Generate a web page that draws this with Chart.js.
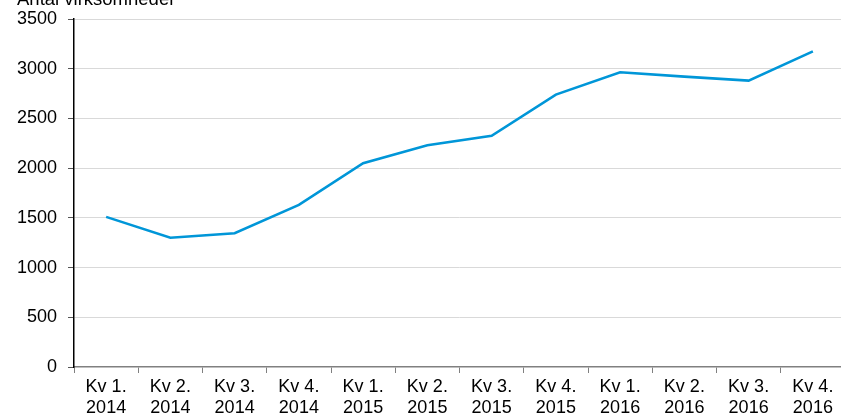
<!DOCTYPE html>
<html lang="da">
  <head>
    <meta charset="UTF-8" />
    <title>Antal virksomheder</title>
    <script src="https://cdn.jsdelivr.net/npm/chart.js@4.4.0/dist/chart.umd.min.js"></script>
    <style>
      html, body { margin: 0; padding: 0; background: #fff; overflow: hidden; }
      #wrap { width: 845px; height: 418px; }
    </style>
  </head>
  <body>
    <div id="wrap"><canvas id="myChart" width="845" height="418"></canvas></div>
    <script>
      // kvartaler
      const quarters = ["Kv 1.", "Kv 2.", "Kv 3.", "Kv 4.", "Kv 1.", "Kv 2.", "Kv 3.", "Kv 4.", "Kv 1.", "Kv 2.", "Kv 3.", "Kv 4."];
      const years = ["2014", "2014", "2014", "2014", "2015", "2015", "2015", "2015", "2016", "2016", "2016", "2016"];
      const antal = [1510, 1300, 1345, 1630, 2050, 2230, 2325, 2740, 2965, 2920, 2880, 3175];
      const yTitle = "Antal virksomheder";

      const labels = quarters.map((q, i) => [q, years[i]]);
      const font = "'Liberation Sans', Arial, sans-serif";

      // tekst over y-aksen, delvis skaaret af i toppen som i originalen
      const titlePlugin = {
        id: "ytitle",
        afterDraw(chart) {
          const ctx = chart.ctx;
          ctx.save();
          ctx.font = "18.5px " + font;
          ctx.fillStyle = "#000";
          ctx.textBaseline = "alphabetic";
          ctx.fillText(yTitle, 17, 5);
          ctx.restore();
        },
      };

      new Chart("myChart", {
        type: "line",
        data: {
          labels: labels,
          datasets: [
            {
              data: antal,
              borderColor: "#0096d8",
              borderWidth: 2.6,
              pointRadius: 0,
              tension: 0,
              fill: false,
            },
          ],
        },
        options: {
          responsive: false,
          animation: false,
          layout: { padding: { top: 19, right: 0, bottom: 0, left: 0 } },
          plugins: { legend: { display: false }, tooltip: { enabled: false } },
          scales: {
            x: {
              offset: true,
              grid: { offset: true, drawOnChartArea: false, tickLength: 6, color: "#808080" },
              border: { color: "#808080", width: 1.5 },
              ticks: { color: "#000", font: { family: font, size: 18, lineHeight: 1.18 }, maxRotation: 0, autoSkip: false, padding: 3 },
              afterFit(scale) { scale.height = 51; },
            },
            y: {
              min: 0,
              max: 3500,
              ticks: { stepSize: 500, color: "#000", font: { family: font, size: 18 }, padding: 11, callback: (v) => String(v) },
              grid: { color: (c) => (c.tick && c.tick.value === 0 ? "rgba(0,0,0,0)" : "#d9d9d9"), tickColor: "#555", tickLength: 6 },
              border: { color: "#000", width: 1.5 },
              afterFit(scale) {
                scale.width = 74;
                scale.paddingTop = 0;
                scale.paddingBottom = 0;
              },
            },
          },
        },
        plugins: [titlePlugin],
      });
    </script>
  </body>
</html>
